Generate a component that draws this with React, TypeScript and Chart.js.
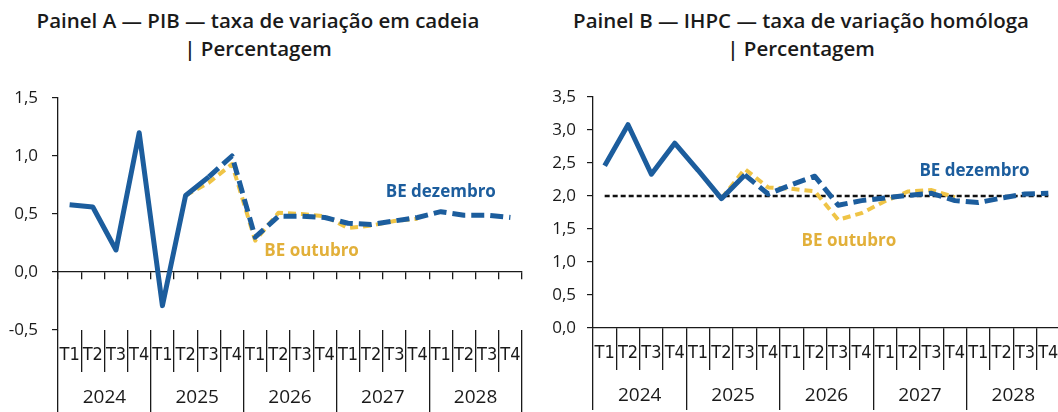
import React, { useEffect, useRef } from 'react';
import { Chart, registerables } from 'chart.js';

Chart.register(...registerables);

const quarters = [
  'T1', 'T2', 'T3', 'T4',
  'T1', 'T2', 'T3', 'T4',
  'T1', 'T2', 'T3', 'T4',
  'T1', 'T2', 'T3', 'T4',
  'T1', 'T2', 'T3', 'T4',
];
const years = ['2024', '2025', '2026', '2027', '2028'];

// Painel A — PIB (taxa de variação em cadeia, %)
const gdpDec = [0.58, 0.56, 0.19, 1.2, -0.29, 0.66, 0.82, 1.0, 0.3, 0.48, 0.48, 0.47, 0.42, 0.41, 0.44, 0.47, 0.52, 0.49, 0.49, 0.47];
const gdpOct = [null, null, null, null, null, 0.66, 0.77, 0.93, 0.27, 0.51, 0.5, 0.48, 0.38, 0.4, 0.44, 0.46, null, null, null, null];

// Painel B — IHPC (taxa de variação homóloga, %)
const hicpDec = [2.46, 3.08, 2.33, 2.8, 2.39, 1.96, 2.32, 2.03, 2.17, 2.3, 1.86, 1.93, 1.97, 2.01, 2.04, 1.93, 1.9, 1.97, 2.03, 2.04];
const hicpOct = [null, null, null, null, null, 1.96, 2.41, 2.13, 2.11, 2.07, 1.64, 1.74, 1.92, 2.07, 2.09, 1.98, null, null, null, null];
const hicpTarget = [2.0, 2.0, 2.0, 2.0, 2.0, 2.0, 2.0, 2.0, 2.0, 2.0, 2.0, 2.0, 2.0, 2.0, 2.0, 2.0, 2.0, 2.0, 2.0, 2.0];

const firstProjectionIndex = 6;

const BLUE = '#1c5d9d';
const GOLD = '#efc446';
const GOLD_TEXT = '#e2b03a';
const INK = '#1a1a1a';

const TICK_FONT = { family: "'Open Sans', 'DejaVu Sans', sans-serif", size: 17 };
const QUARTER_FONT = { family: "'Liberation Sans Narrow', 'DejaVu Sans Condensed', 'Open Sans', sans-serif", size: 18 };
const YEAR_FONT = { family: "'Open Sans', 'DejaVu Sans', sans-serif", size: 19 };

type LabelItem = { text: string; color: string; x: number; y: number };

function labelPlugin(items: LabelItem[]) {
  return {
    id: 'lineLabels',
    afterDatasetsDraw(chart: any) {
      const { ctx, scales } = chart;
      ctx.save();
      ctx.font = "700 17px 'Open Sans', 'DejaVu Sans', sans-serif";
      ctx.textAlign = 'center';
      ctx.textBaseline = 'middle';
      for (const it of items) {
        ctx.fillStyle = it.color;
        ctx.fillText(it.text, scales.x.getPixelForValue(it.x), scales.y.getPixelForValue(it.y));
      }
      ctx.restore();
    },
  };
}

type PanelCfg = {
  dec: (number | null)[];
  oct: (number | null)[];
  target?: (number | null)[];
  yMin: number;
  yMax: number;
  axisLeft: number;
  labelPad: number;
  padding: { top: number; right: number; bottom: number };
  zeroAxis: boolean;
  labels: LabelItem[];
};

const QUARTER_TICK = 42;
const YEAR_TICK = 40;

function buildConfig(p: PanelCfg): any {
  const datasets: any[] = [
    {
      label: 'BE dezembro',
      data: p.dec,
      xAxisID: 'x',
      yAxisID: 'y',
      borderColor: BLUE,
      borderWidth: 5,
      pointRadius: 0,
      tension: 0,
      borderJoinStyle: 'round',
      borderCapStyle: 'butt',
      segment: {
        borderDash: (ctx: any) => (ctx.p0DataIndex >= firstProjectionIndex ? [13, 6] : undefined),
      },
    },
    {
      label: 'BE outubro',
      data: p.oct,
      xAxisID: 'x',
      yAxisID: 'y',
      borderColor: GOLD,
      borderWidth: 4,
      borderDash: [8, 5],
      pointRadius: 0,
      tension: 0,
      borderJoinStyle: 'round',
    },
  ];
  if (p.target) {
    datasets.push({
      label: 'Objetivo',
      data: p.target,
      xAxisID: 'x',
      yAxisID: 'y',
      borderColor: '#111111',
      borderWidth: 2.5,
      borderDash: [5, 3],
      pointRadius: 0,
    });
  }

  const scales: any = {
    x: {
      type: 'category',
      axis: 'x',
      position: 'bottom',
      weight: 0,
      offset: true,
      grid: {
        offset: true,
        drawOnChartArea: false,
        drawTicks: true,
        tickLength: QUARTER_TICK,
        color: INK,
        lineWidth: 1.3,
      },
      border: { display: !p.zeroAxis, color: INK, width: 1.3 },
      ticks: {
        autoSkip: false,
        maxRotation: 0,
        minRotation: 0,
        padding: -27,
        color: INK,
        font: QUARTER_FONT,
      },
      afterFit: (s: any) => {
        s.height = QUARTER_TICK;
      },
    },
    years: {
      type: 'category',
      axis: 'x',
      position: 'bottom',
      weight: 1,
      labels: years,
      offset: true,
      grid: {
        offset: true,
        drawOnChartArea: false,
        drawTicks: true,
        tickLength: YEAR_TICK,
        color: INK,
        lineWidth: 1.3,
      },
      border: { display: false },
      ticks: {
        autoSkip: false,
        maxRotation: 0,
        minRotation: 0,
        padding: -26,
        color: INK,
        font: YEAR_FONT,
      },
      afterFit: (s: any) => {
        s.height = YEAR_TICK;
      },
    },
    y: {
      type: 'linear',
      position: 'left',
      min: p.yMin,
      max: p.yMax,
      grid: {
        drawOnChartArea: false,
        drawTicks: true,
        tickLength: 6,
        color: INK,
        lineWidth: 1.2,
      },
      border: { display: true, color: INK, width: 1.3 },
      ticks: {
        stepSize: 0.5,
        padding: p.labelPad,
        color: INK,
        font: TICK_FONT,
        callback: (v: any) => Number(v).toFixed(1).replace('.', ','),
      },
      afterFit: (s: any) => {
        s.width = p.axisLeft;
      },
    },
  };

  if (p.zeroAxis) {
    scales.x0 = {
      type: 'category',
      axis: 'x',
      position: { y: 0 },
      labels: quarters,
      offset: true,
      grid: {
        offset: true,
        drawOnChartArea: false,
        drawTicks: true,
        tickLength: 7,
        color: INK,
        lineWidth: 1.3,
      },
      border: { display: true, color: INK, width: 1.3 },
      ticks: { display: false },
    };
  }

  return {
    type: 'line',
    data: { labels: quarters, datasets },
    options: {
      responsive: false,
      animation: false,
      devicePixelRatio: 1,
      layout: { padding: { left: 0, top: p.padding.top, right: p.padding.right, bottom: p.padding.bottom } },
      plugins: {
        legend: { display: false },
        tooltip: { enabled: false },
        title: { display: false },
      },
      scales,
    },
    plugins: [labelPlugin(p.labels)],
  };
}

function Panel({ cfg, left, width }: { cfg: PanelCfg; left: number; width: number }) {
  const ref = useRef<HTMLCanvasElement | null>(null);
  useEffect(() => {
    if (!ref.current) return;
    const chart = new Chart(ref.current, buildConfig(cfg));
    return () => chart.destroy();
  }, []);
  return (
    <canvas
      ref={ref}
      width={width}
      height={412}
      style={{ position: 'absolute', left, top: 0, width, height: 412 }}
    />
  );
}

const panelA: PanelCfg = {
  dec: gdpDec,
  oct: gdpOct,
  yMin: -0.5,
  yMax: 1.5,
  axisLeft: 58,
  labelPad: 14,
  padding: { top: 98, right: 7, bottom: 0 },
  zeroAxis: true,
  labels: [
    { text: 'BE dezembro', color: BLUE, x: 16.0, y: 0.69 },
    { text: 'BE outubro', color: GOLD_TEXT, x: 10.43, y: 0.18 },
  ],
};

const panelB: PanelCfg = {
  dec: hicpDec,
  oct: hicpOct,
  target: hicpTarget,
  yMin: 0,
  yMax: 3.5,
  axisLeft: 64,
  labelPad: 11,
  padding: { top: 97, right: 14, bottom: 2 },
  zeroAxis: false,
  labels: [
    { text: 'BE dezembro', color: BLUE, x: 15.84, y: 2.37 },
    { text: 'BE outubro', color: GOLD_TEXT, x: 10.46, y: 1.32 },
  ],
};

const titleStyle: React.CSSProperties = {
  position: 'absolute',
  top: 6,
  textAlign: 'center',
  fontFamily: "'Open Sans', 'DejaVu Sans', sans-serif",
  fontWeight: 600,
  fontSize: 20.5,
  lineHeight: '28px',
  color: INK,
  whiteSpace: 'nowrap',
};

export default function App() {
  return (
    <div
      style={{
        position: 'absolute',
        left: 0,
        top: 0,
        width: 1058,
        height: 412,
        overflow: 'hidden',
        background: '#ffffff',
      }}
    >
      <div style={{ ...titleStyle, left: 0, width: 516 }}>
        Painel A — PIB — taxa de variação em cadeia
        <br />| Percentagem
      </div>
      <div style={{ ...titleStyle, left: 545, width: 512 }}>
        Painel B — IHPC — taxa de variação homóloga
        <br />| Percentagem
      </div>
      <Panel cfg={panelA} left={0} width={529} />
      <Panel cfg={panelB} left={529} width={545} />
    </div>
  );
}
